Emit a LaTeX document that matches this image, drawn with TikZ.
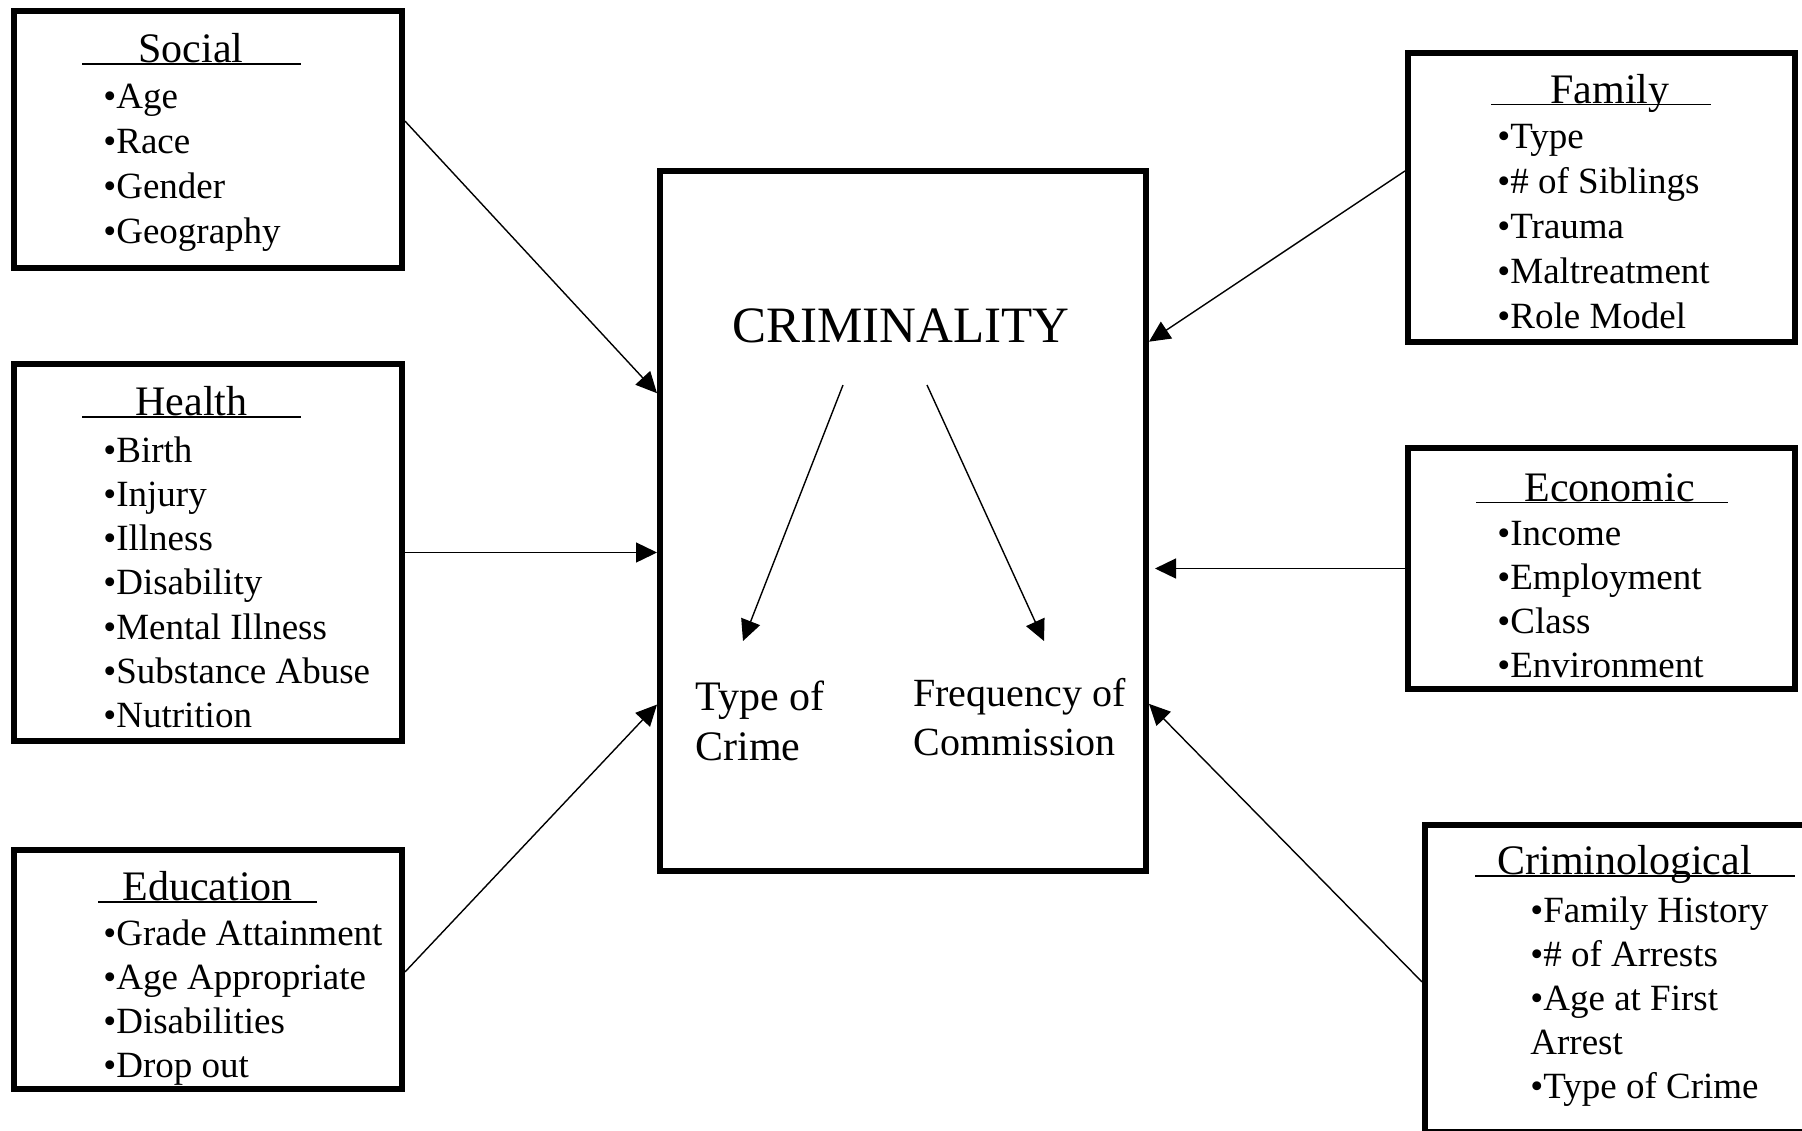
\documentclass[tikz,border=0pt]{standalone}
\usepackage{fontspec}
\setmainfont{Liberation Serif}
\usetikzlibrary{arrows.meta,calc}
\begin{document}
\begin{tikzpicture}[x=0.5pt,y=-0.5pt,
  box/.style={draw, line width=3pt, inner sep=0pt},
  ttl/.style={font=\fontsize{21}{25}\selectfont, inner sep=0pt, anchor=base west},
  itm/.style={font=\fontsize{18.5}{22}\selectfont, inner sep=0pt, anchor=base west},
  big/.style={font=\fontsize{25.5}{30}\selectfont, inner sep=0pt, anchor=base},
  mid/.style={inner sep=0pt, anchor=base west},
  conn/.style={line width=0.7pt, -{Triangle[length=10.5pt,width=10pt]}},
  uline/.style={line width=0.75pt}]
\useasboundingbox (0,0) rectangle (1802,1130);
\clip (0,0) rectangle (1802,1130);

% boxes
\node[box, minimum width=194pt, minimum height=128.5pt] (social) at (208,139.5) {};
\node[box, minimum width=194pt, minimum height=188.5pt] (health) at (208,552.5) {};
\node[box, minimum width=194pt, minimum height=119.5pt] (educ) at (208,969.5) {};
\node[box, minimum width=243pt, minimum height=350pt] (crim) at (903,521) {};
\node[box, minimum width=193.5pt, minimum height=144.5pt] (family) at (1601.5,197.5) {};
\node[box, minimum width=193.5pt, minimum height=120.5pt] (econ) at (1601.5,568.5) {};
\node[box, minimum width=190.5pt, minimum height=153.5pt] (crimin) at (1615.5,978.5) {};

% titles with underlines
\node[ttl] (socT) at (138,62) {Social};
\draw[uline] ($(socT.base west)+(-56,2)$) -- ($(socT.base west)+(163,2)$);
\node[ttl] (heaT) at (135,415) {Health};
\draw[uline] ($(heaT.base west)+(-53,2)$) -- ($(heaT.base west)+(166,2)$);
\node[ttl] (eduT) at (122,900) {Education};
\draw[uline] ($(eduT.base west)+(-24,2)$) -- ($(eduT.base west)+(195,2)$);
\node[ttl] (famT) at (1550,103) {Family};
\draw[uline] ($(famT.base west)+(-59,1.5)$) -- ($(famT.base west)+(161,1.5)$);
\node[ttl] (ecoT) at (1524,501) {Economic};
\draw[uline] ($(ecoT.base west)+(-48,1.5)$) -- ($(ecoT.base west)+(204,1.5)$);
\node[ttl] (crmT) at (1497,874) {Criminological};
\draw[uline] ($(crmT.base west)+(-22,2)$) -- ($(crmT.base west)+(298,2)$);

% items
\foreach \t [count=\i from 0] in {Age,Race,Gender,Geography}
  \node[itm] (soc\i) at (103,{108+45*\i}) {•\t};
\foreach \t [count=\i from 0] in {Birth,Injury,Illness,Disability,Mental Illness,Substance Abuse,Nutrition}
  \node[itm] (hea\i) at (103,{462+44.3*\i}) {•\t};
\foreach \t [count=\i from 0] in {Grade Attainment,Age Appropriate,Disabilities,Drop out}
  \node[itm] (edu\i) at (103,{945+44.3*\i}) {•\t};
\foreach \t [count=\i from 0] in {Type,\# of Siblings,Trauma,Maltreatment,Role Model}
  \node[itm] (fam\i) at (1497,{148+45*\i}) {•\t};
\foreach \t [count=\i from 0] in {Income,Employment,Class,Environment}
  \node[itm] (eco\i) at (1497,{545+44.3*\i}) {•\t};
\foreach \t [count=\i from 0] in {•Family History,•\# of Arrests,•Age at First,Arrest,•Type of Crime}
  \node[itm] (crm\i) at (1530,{922+44*\i}) {\t};

% central texts
\node[big] (crimT) at (901,342) {CRIMINALITY};
\node[mid, font=\fontsize{21}{25}\selectfont] (typeA) at (695,710) {Type of};
\node[mid, font=\fontsize{21}{25}\selectfont] (typeB) at (695,760) {Crime};
\node[mid, font=\fontsize{20}{24}\selectfont] (freqA) at (913,706) {Frequency of};
\node[mid, font=\fontsize{20}{24}\selectfont] (freqB) at (913,755) {Commission};

% internal arrows
\draw[conn] ($(crimT.base)+(-58,43)$) -- ($(typeA.base west)+(48,-69)$);
\draw[conn] ($(crimT.base)+(26,43)$) -- ($(freqA.base west)+(131,-65)$);

% connectors into the central box
\draw[conn] ($(social.north east)!0.43!(social.south east)$) -- ($(crim.north west)!0.319!(crim.south west)$);
\draw[conn] (health.east) -- (health.east -| crim.west);
\draw[conn] ($(educ.north east)!0.51!(educ.south east)$) -- ($(crim.north west)!0.76!(crim.south west)$);
\draw[conn] ($(family.north west)!0.41!(family.south west)$) -- ($(crim.north east)!0.246!(crim.south east)$);
\draw[conn] (econ.west) -- ([xshift=3pt]econ.west -| crim.east);
\draw[conn] ($(crimin.north west)!0.511!(crimin.south west)$) -- ($(crim.north east)!0.759!(crim.south east)$);
\end{tikzpicture}
\end{document}
